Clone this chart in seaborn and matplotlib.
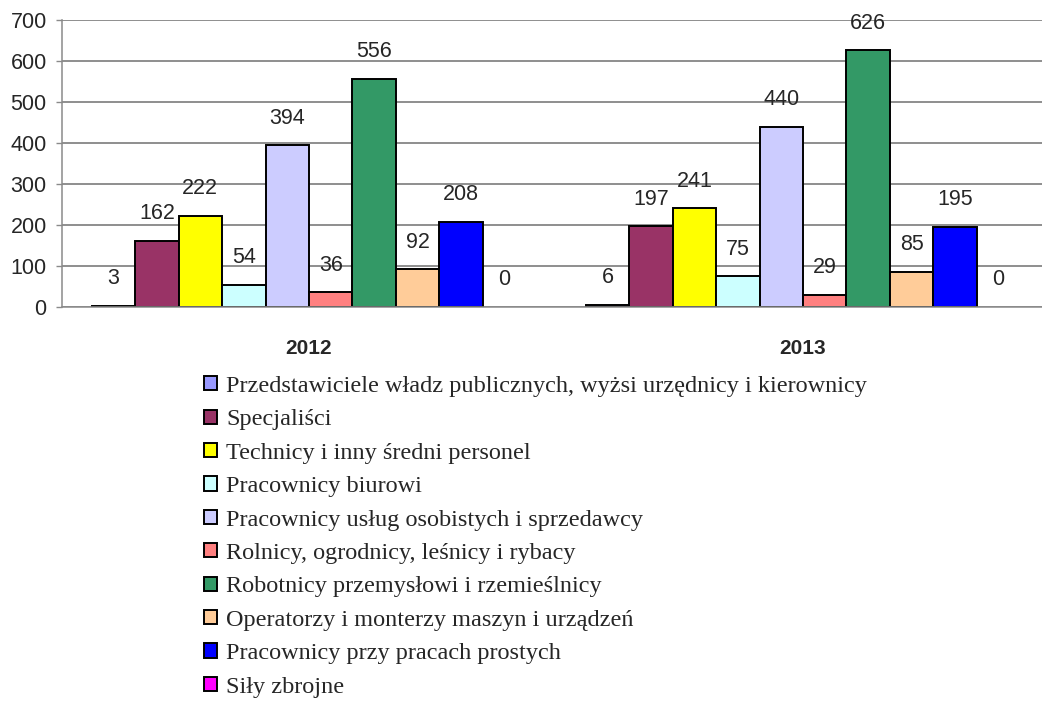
import numpy as np
import pandas as pd
import matplotlib
matplotlib.use('Agg')
import matplotlib.pyplot as plt
import seaborn as sns

# data
years = ['2012', '2013']
occupations = [
    'Przedstawiciele władz publicznych, wyżsi urzędnicy i kierownicy',
    'Specjaliści',
    'Technicy i inny średni personel',
    'Pracownicy biurowi',
    'Pracownicy usług osobistych i sprzedawcy',
    'Rolnicy, ogrodnicy, leśnicy i rybacy',
    'Robotnicy przemysłowi i rzemieślnicy',
    'Operatorzy i monterzy maszyn i urządzeń',
    'Pracownicy przy pracach prostych',
    'Siły zbrojne',
]
values_2012 = [3, 162, 222, 54, 394, 36, 556, 92, 208, 0]
values_2013 = [6, 197, 241, 75, 440, 29, 626, 85, 195, 0]
colors = ['#9999FF', '#993366', '#FFFF00', '#CCFFFF', '#CCCCFF',
          '#FF8080', '#339966', '#FFCC99', '#0000FF', '#FF00FF']

df = pd.DataFrame({
    'rok': np.repeat(years, len(occupations)),
    'zawod': occupations * 2,
    'liczba': values_2012 + values_2013,
})

sns.set_theme(style='white')
plt.rcParams['font.family'] = ['Liberation Sans', 'DejaVu Sans']

fig = plt.figure(figsize=(10.42, 7.04), dpi=100)
ax = fig.add_axes([62 / 1042, 1 - 307 / 704, 988 / 1042, 287 / 704])

sns.barplot(data=df, x='rok', y='liczba', hue='zawod', hue_order=occupations,
            palette=colors, saturation=1, width=0.88, edgecolor='black',
            linewidth=1.4, legend=False, ax=ax)

ax.set_xlim(-0.5, 1.5)
ax.set_ylim(0, 700)
ax.set_yticks(range(0, 701, 100))
ax.yaxis.grid(True, color='#707070', linewidth=1.1)
ax.set_axisbelow(True)
for side in ['top', 'right']:
    ax.spines[side].set_visible(False)
for side in ['left', 'bottom']:
    ax.spines[side].set_color('#8a8a8a')
    ax.spines[side].set_linewidth(1.1)
ax.tick_params(axis='y', which='both', left=True, length=4, width=1.0,
               color='#8a8a8a', pad=7, labelsize=15.5)
ax.tick_params(axis='x', bottom=False, pad=17, labelsize=15)
for lbl in ax.get_xticklabels():
    lbl.set_fontweight('bold')
ax.set_xlabel('')
ax.set_ylabel('')

for cont in ax.containers:
    ax.bar_label(cont, padding=12, fontsize=15.5)

leg = fig.legend(ax.containers, occupations, loc='upper left',
                 bbox_to_anchor=(204 / 1042, 1 - 376 / 704), frameon=False,
                 prop={'family': 'Liberation Serif', 'size': 17.5},
                 handlelength=0.52, handleheight=0.52, handletextpad=0.4,
                 labelspacing=0.51, borderpad=0, borderaxespad=0)

# zero-height bars are not drawn in the original
for p in ax.patches:
    if p.get_height() == 0:
        p.set_edgecolor('none')

fig.savefig('out.png', dpi=100)
